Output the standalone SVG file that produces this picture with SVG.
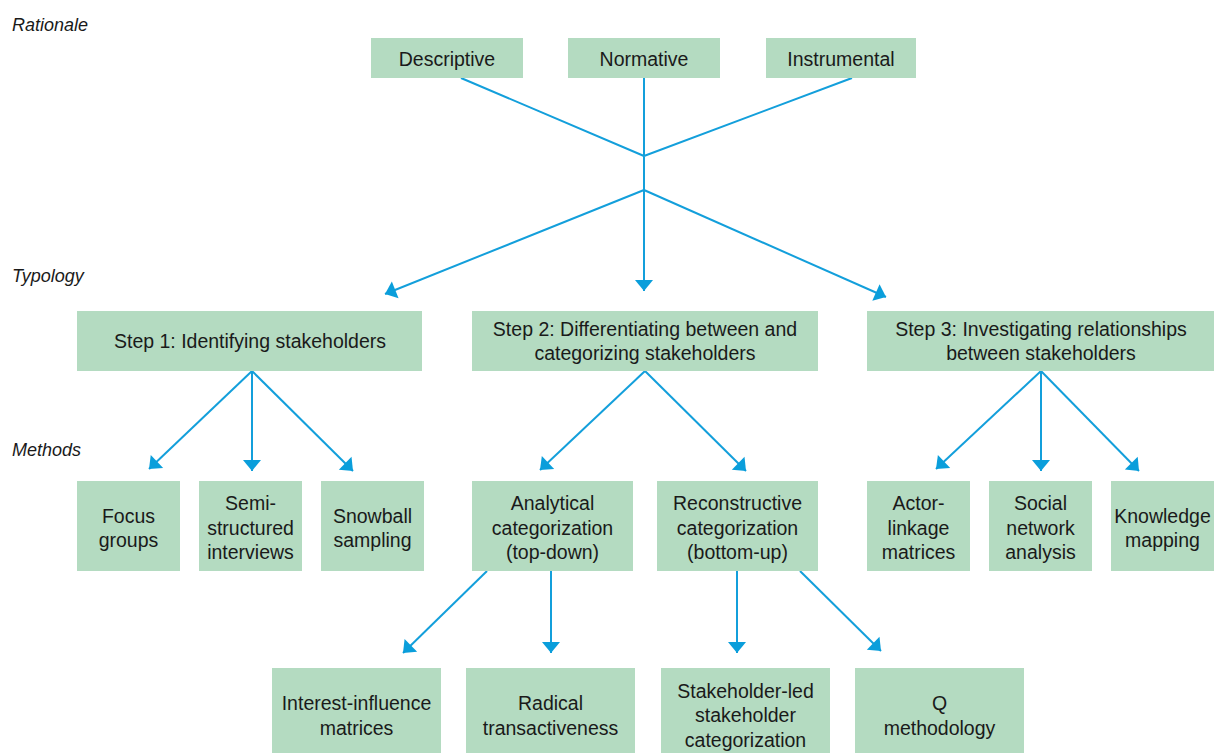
<svg xmlns="http://www.w3.org/2000/svg" width="1215" height="753" viewBox="0 0 1215 753">
<style>
.box{fill:#b4dbc1}
.t{font-family:"Liberation Sans",Arial,sans-serif;font-size:19.5px;fill:#1a1a1a;text-anchor:middle}
.lab{font-family:"Liberation Sans",Arial,sans-serif;font-size:18px;font-style:italic;fill:#1a1a1a}
.c{stroke:#139fdb;stroke-width:2;fill:none}
</style>
<defs>
<marker id="ah" markerUnits="userSpaceOnUse" markerWidth="14" markerHeight="22" viewBox="0 0 14 22" refX="12" refY="11" orient="auto">
<path d="M1,2 L12,11 L1,20 z" fill="#0a9edb"/>
</marker>
</defs>
<rect width="1215" height="753" fill="#ffffff"/>
<text class="lab" x="12" y="31">Rationale</text>
<text class="lab" x="12" y="282">Typology</text>
<text class="lab" x="12" y="456">Methods</text>

<g id="connectors">
<path class="c" d="M461,78 L644,156 M644,78 L644,156 M852,78 L644,156 M644,156 L644,190"/>
<line class="c" x1="644" y1="190" x2="385" y2="294" marker-end="url(#ah)"/>
<line class="c" x1="644" y1="190" x2="644" y2="291" marker-end="url(#ah)"/>
<line class="c" x1="644" y1="190" x2="886" y2="297" marker-end="url(#ah)"/>
<line class="c" x1="252" y1="371" x2="149" y2="469" marker-end="url(#ah)"/>
<line class="c" x1="252" y1="371" x2="252" y2="471" marker-end="url(#ah)"/>
<line class="c" x1="252" y1="371" x2="353" y2="471" marker-end="url(#ah)"/>
<line class="c" x1="645" y1="371" x2="540" y2="470" marker-end="url(#ah)"/>
<line class="c" x1="645" y1="371" x2="746" y2="471" marker-end="url(#ah)"/>
<line class="c" x1="1041" y1="371" x2="936" y2="469" marker-end="url(#ah)"/>
<line class="c" x1="1041" y1="371" x2="1041" y2="471" marker-end="url(#ah)"/>
<line class="c" x1="1041" y1="371" x2="1139" y2="471" marker-end="url(#ah)"/>
<line class="c" x1="487" y1="571" x2="403" y2="653" marker-end="url(#ah)"/>
<line class="c" x1="551" y1="571" x2="551" y2="653" marker-end="url(#ah)"/>
<line class="c" x1="737" y1="571" x2="737" y2="653" marker-end="url(#ah)"/>
<line class="c" x1="800" y1="571" x2="881" y2="651" marker-end="url(#ah)"/>
</g>

<g id="descriptive"><rect class="box" x="371" y="38" width="152" height="40"/><text class="t" x="447" y="66">Descriptive</text></g>
<g id="normative"><rect class="box" x="568" y="38" width="152" height="40"/><text class="t" x="644" y="66">Normative</text></g>
<g id="instrumental"><rect class="box" x="766" y="38" width="150" height="40"/><text class="t" x="841" y="66">Instrumental</text></g>

<g id="step1"><rect class="box" x="77" y="311" width="345" height="60"/><text class="t" x="250" y="348">Step 1: Identifying stakeholders</text></g>
<g id="step2"><rect class="box" x="472" y="311" width="346" height="60"/><text class="t" x="645" y="336">Step 2: Differentiating between and</text><text class="t" x="645" y="360">categorizing stakeholders</text></g>
<g id="step3"><rect class="box" x="867" y="311" width="347" height="60"/><text class="t" x="1041" y="336">Step 3: Investigating relationships</text><text class="t" x="1041" y="360">between stakeholders</text></g>

<g id="focus"><rect class="box" x="77" y="481" width="103" height="90"/><text class="t" x="128.5" y="523">Focus</text><text class="t" x="128.5" y="547">groups</text></g>
<g id="semi"><rect class="box" x="199" y="481" width="103" height="90"/><text class="t" x="250.5" y="510">Semi-</text><text class="t" x="250.5" y="535">structured</text><text class="t" x="250.5" y="559">interviews</text></g>
<g id="snowball"><rect class="box" x="321" y="481" width="103" height="90"/><text class="t" x="372.5" y="523">Snowball</text><text class="t" x="372.5" y="547">sampling</text></g>
<g id="analytical"><rect class="box" x="472" y="481" width="161" height="90"/><text class="t" x="552.5" y="510">Analytical</text><text class="t" x="552.5" y="535">categorization</text><text class="t" x="552.5" y="559">(top-down)</text></g>
<g id="reconstructive"><rect class="box" x="657" y="481" width="161" height="90"/><text class="t" x="737.5" y="510">Reconstructive</text><text class="t" x="737.5" y="535">categorization</text><text class="t" x="737.5" y="559">(bottom-up)</text></g>
<g id="actor"><rect class="box" x="867" y="481" width="103" height="90"/><text class="t" x="918.5" y="510">Actor-</text><text class="t" x="918.5" y="535">linkage</text><text class="t" x="918.5" y="559">matrices</text></g>
<g id="social"><rect class="box" x="989" y="481" width="103" height="90"/><text class="t" x="1040.5" y="510">Social</text><text class="t" x="1040.5" y="535">network</text><text class="t" x="1040.5" y="559">analysis</text></g>
<g id="knowledge"><rect class="box" x="1111" y="481" width="103" height="90"/><text class="t" x="1162.5" y="523">Knowledge</text><text class="t" x="1162.5" y="547">mapping</text></g>

<g id="interest"><rect class="box" x="272" y="668" width="169" height="90"/><text class="t" x="356.5" y="710">Interest-influence</text><text class="t" x="356.5" y="735">matrices</text></g>
<g id="radical"><rect class="box" x="466" y="668" width="169" height="90"/><text class="t" x="550.5" y="710">Radical</text><text class="t" x="550.5" y="735">transactiveness</text></g>
<g id="stakeholderled"><rect class="box" x="661" y="668" width="169" height="90"/><text class="t" x="745.5" y="698">Stakeholder-led</text><text class="t" x="745.5" y="722">stakeholder</text><text class="t" x="745.5" y="747">categorization</text></g>
<g id="q"><rect class="box" x="855" y="668" width="169" height="90"/><text class="t" x="939.5" y="710">Q</text><text class="t" x="939.5" y="735">methodology</text></g>
</svg>
